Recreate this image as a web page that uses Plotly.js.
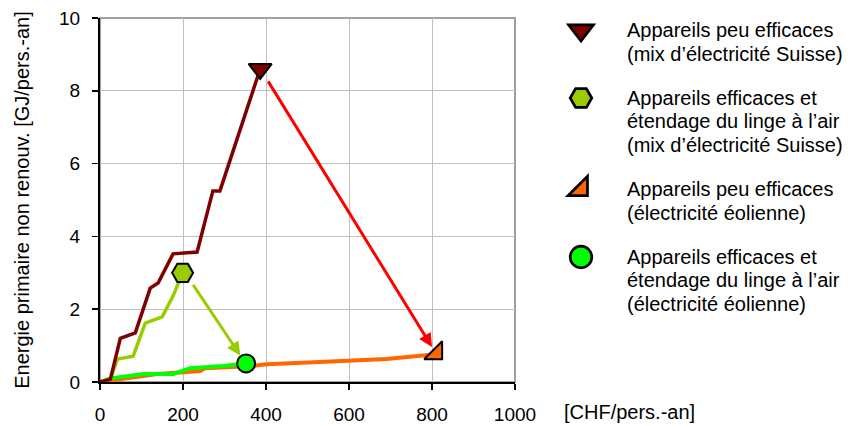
<!DOCTYPE html>
<html>
<head>
<meta charset="utf-8">
<script src="https://cdn.plot.ly/plotly-3.0.1.min.js"></script>
<style>
html, body { margin: 0; padding: 0; background: #fff; }
#chart { width: 856px; height: 426px; }
/* enlarge legend symbols beyond Plotly's 16px cap (centre stays at itemwidth/2 + 5 = 46px) */
#chart .legend path.scatterpts { transform: translate(46px, 0px) scale(1.35); }
</style>
</head>
<body>
<div id="chart"></div>
<script>
// ---- data ----
const seriesNames = [
  'Appareils peu efficaces<br>(mix d\u2019électricité Suisse)',
  'Appareils efficaces et<br>étendage du linge à l\u2019air<br>(mix d\u2019électricité Suisse)',
  'Appareils peu efficaces<br>(électricité éolienne)',
  'Appareils efficaces et<br>étendage du linge à l\u2019air<br>(électricité éolienne)'
];

// cumulative paths (CHF/pers.-an vs GJ/pers.-an)
const pathPeuSuisseX = [0, 25, 49, 85, 121, 140, 176, 234, 272, 289, 386];
const pathPeuSuisseY = [0, 0.08, 1.2, 1.35, 2.58, 2.72, 3.52, 3.57, 5.25, 5.25, 8.6];

const pathEffSuisseX = [0, 25, 42, 80, 109, 150, 176, 199];
const pathEffSuisseY = [0, 0.08, 0.63, 0.71, 1.62, 1.79, 2.36, 3.0];

const pathPeuEolX = [0, 138, 241, 253, 368, 401, 529, 690, 810];
const pathPeuEolY = [0, 0.22, 0.3, 0.38, 0.44, 0.49, 0.55, 0.63, 0.76];

const pathEffEolX = [0, 25, 105, 177, 217, 257, 297, 352];
const pathEffEolY = [0, 0.1, 0.22, 0.22, 0.38, 0.41, 0.44, 0.51];

// end points (scenario totals)
const endX = [386, 199, 810, 352];
const endY = [8.6, 3.0, 0.79, 0.51];

// arrows between scenarios: [tailX, tailY, headX, headY]
const arrowRed = [403, 8.3, 800, 0.96];
const arrowLime = [222, 2.71, 338, 0.73];

const xTicks = [0, 200, 400, 600, 800, 1000];
const yTicks = [0, 2, 4, 6, 8, 10];

// ---- styles ----
const colors = ['#800000', '#99cc00', '#ff6600', '#00ff00'];
const symbols = ['triangle-down', 'hexagon2', 'triangle-se', 'circle'];
const sizes = [20, 21, 20, 18];
const FONT = 'Liberation Sans, Arial, sans-serif';

const wrap = s => s.split('<br>').map(l => '<span style="font-size:20px">' + l + '</span>').join('<br>');

const lineTraces = [
  {x: pathPeuEolX, y: pathPeuEolY, c: colors[2], w: 4},
  {x: pathEffEolX, y: pathEffEolY, c: colors[3], w: 4},
  {x: pathEffSuisseX, y: pathEffSuisseY, c: colors[1], w: 3.5},
  {x: pathPeuSuisseX, y: pathPeuSuisseY, c: colors[0], w: 3.5}
].map(t => ({
  type: 'scatter', mode: 'lines', x: t.x, y: t.y,
  line: {color: t.c, width: t.w}, showlegend: false, hoverinfo: 'skip'
}));

const markerTraces = seriesNames.map((n, i) => ({
  type: 'scatter', mode: 'markers', x: [endX[i]], y: [endY[i]],
  name: wrap(n), legendgroup: 'g' + i,
  marker: {symbol: symbols[i], size: sizes[i], color: colors[i], line: {color: '#000', width: 2}}
}));

function arrow(a, color) {
  return {
    x: a[2], y: a[3], ax: a[0], ay: a[1], xref: 'x', yref: 'y', axref: 'x', ayref: 'y',
    text: '', showarrow: true, arrowhead: 2, arrowsize: 0.9, arrowwidth: 3, arrowcolor: color
  };
}

const layout = {
  width: 856, height: 426,
  margin: {l: 99.5, r: 341, t: 17.5, b: 44},
  paper_bgcolor: '#fff', plot_bgcolor: '#fff',
  font: {family: FONT, size: 19, color: '#000'},
  xaxis: {
    range: [0, 1000], tickvals: xTicks, ticktext: xTicks.map(String),
    showgrid: true, gridcolor: '#c0c0c0', gridwidth: 1,
    showline: true, linecolor: '#000', linewidth: 2,
    ticks: 'outside', ticklen: 6, tickcolor: '#000', tickwidth: 1.5,
    ticklabelstandoff: 8, zeroline: false, fixedrange: true,
    tickfont: {family: FONT, size: 19}
  },
  yaxis: {
    range: [0, 10], tickvals: yTicks, ticktext: yTicks.map(String),
    showgrid: true, gridcolor: '#c0c0c0', gridwidth: 1,
    showline: true, linecolor: '#000', linewidth: 2,
    ticks: 'outside', ticklen: 6, tickcolor: '#000', tickwidth: 1.5,
    ticklabelstandoff: 8, zeroline: false, fixedrange: true,
    tickfont: {family: FONT, size: 19},
    title: {text: 'Energie primaire non renouv. [GJ/pers.-an]', font: {family: FONT, size: 20}, standoff: 24}
  },
  shapes: [{
    type: 'rect', xref: 'paper', yref: 'paper', x0: 0, x1: 1, y0: 0, y1: 1,
    line: {color: '#a0a0a0', width: 2}, layer: 'below'
  }],
  annotations: [
    arrow(arrowRed, '#ff0000'),
    arrow(arrowLime, '#99cc00'),
    {
      text: '[CHF/pers.-an]', xref: 'paper', yref: 'paper', x: 1.114, y: -0.083,
      xanchor: 'left', yanchor: 'middle', showarrow: false,
      font: {family: FONT, size: 20, color: '#000'}
    }
  ],
  showlegend: true,
  legend: {
    xref: 'container', yref: 'container', x: 535 / 856, y: 1 - 12 / 426,
    xanchor: 'left', yanchor: 'top', valign: 'top',
    font: {family: FONT, size: 18, color: '#000'},
    bgcolor: 'rgba(0,0,0,0)', borderwidth: 0,
    tracegroupgap: 18, itemwidth: 82, itemsizing: 'trace', maxheight: 420
  }
};

Plotly.newPlot('chart', lineTraces.concat(markerTraces), layout, {displayModeBar: false, staticPlot: true});
</script>
</body>
</html>
